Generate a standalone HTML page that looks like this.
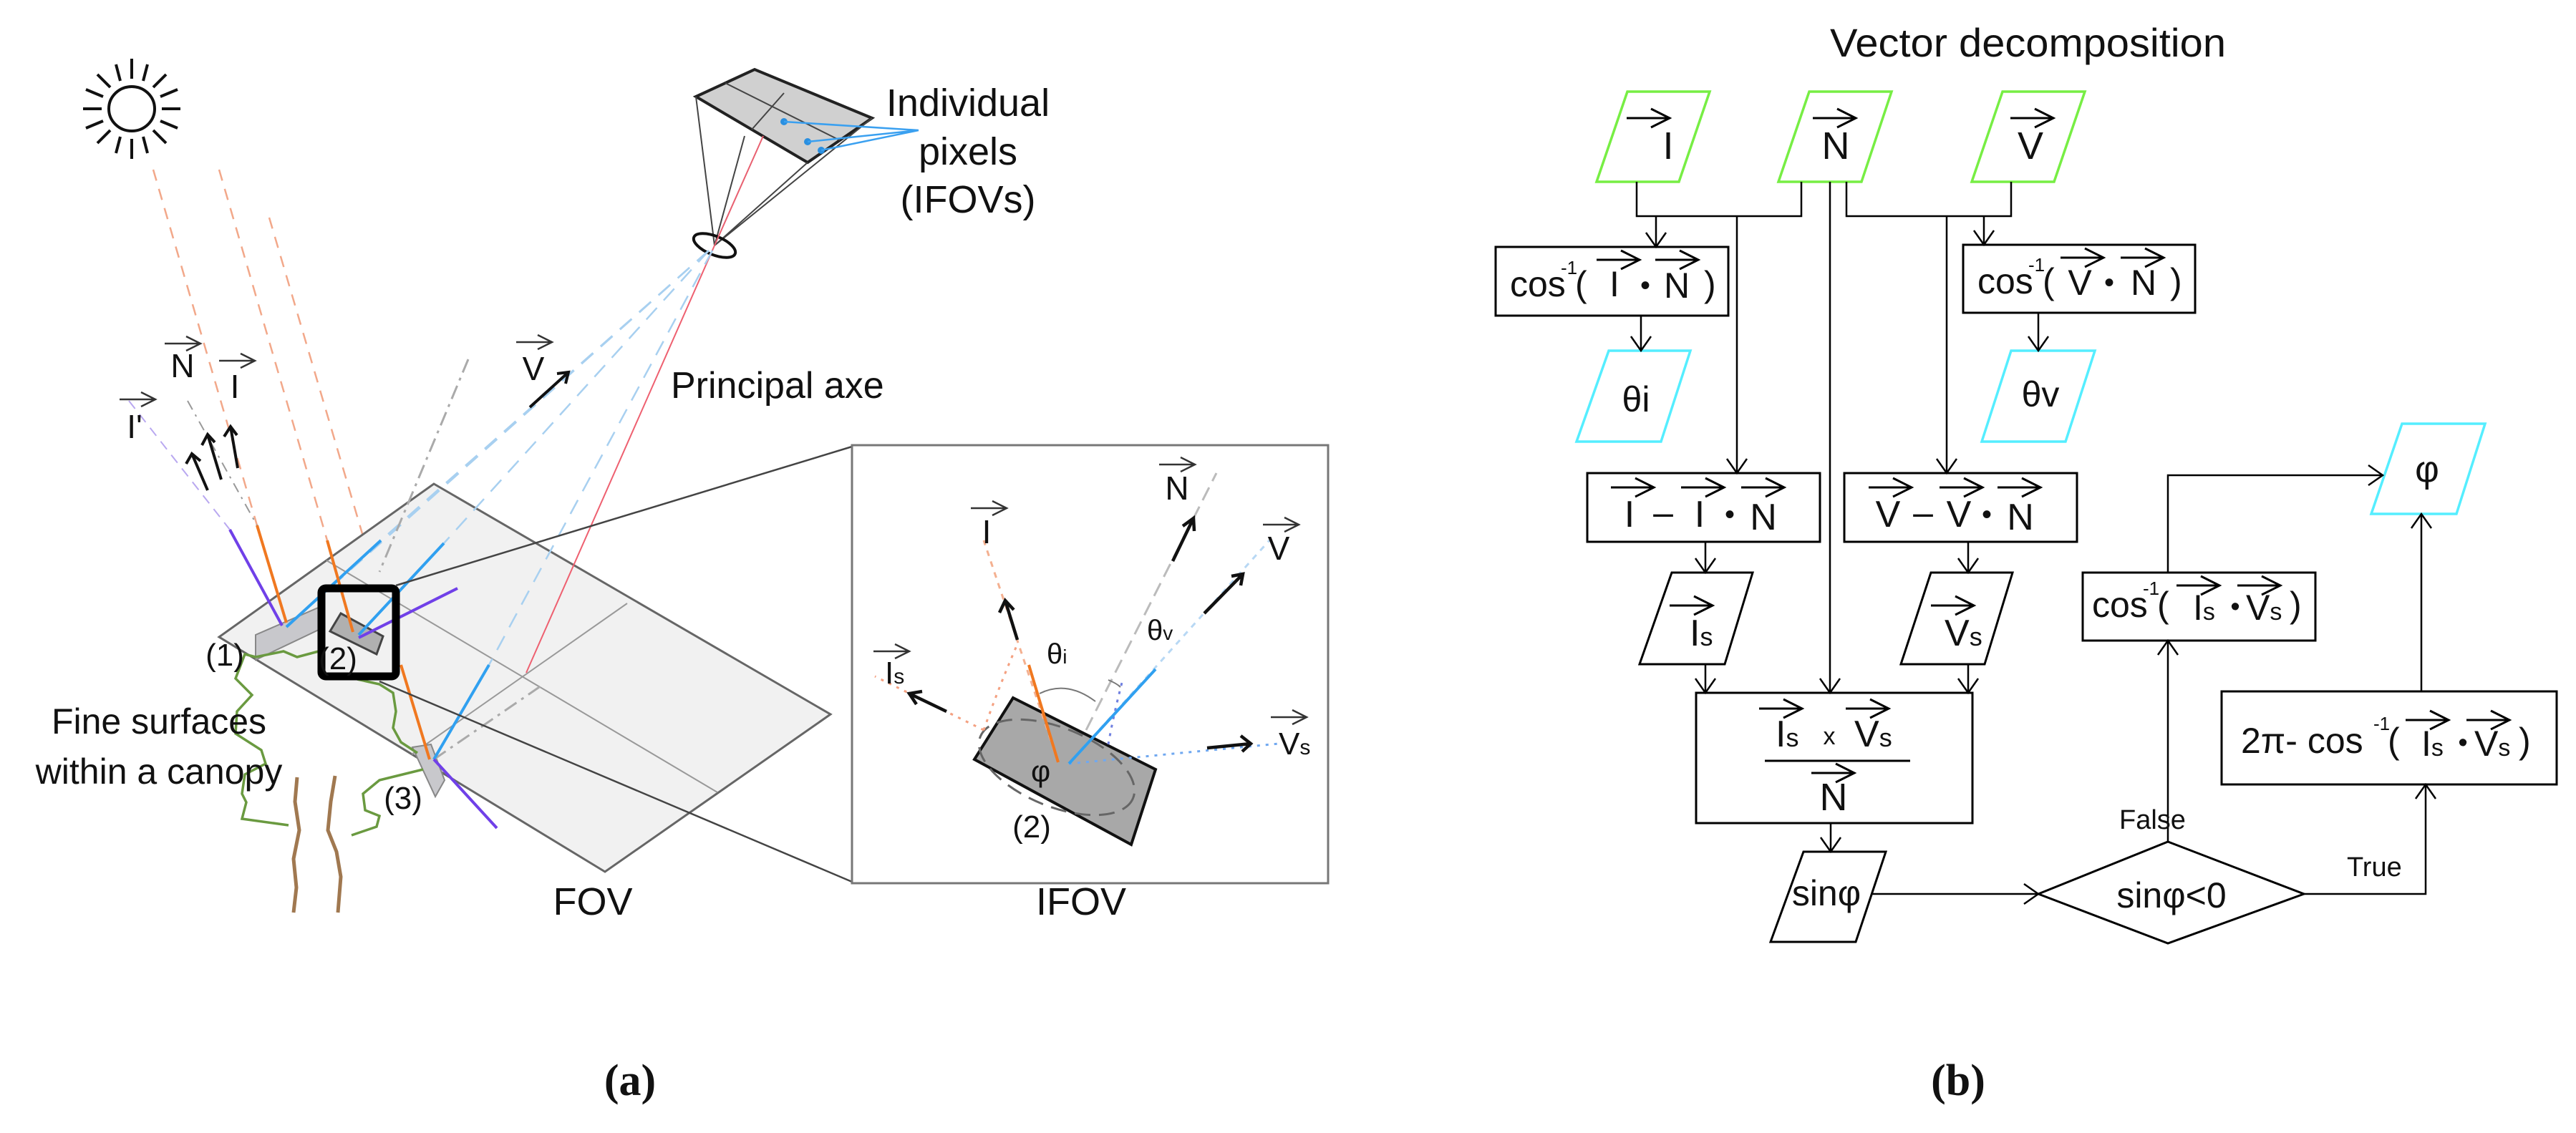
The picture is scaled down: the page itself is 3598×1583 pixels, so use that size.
<!DOCTYPE html>
<html><head><meta charset="utf-8"><style>
html,body{margin:0;padding:0;background:#fff;}
svg{display:block;}
text{font-family:"Liberation Sans",Arial,sans-serif;fill:#111;}
.ser{font-family:"Liberation Serif",serif;font-weight:bold;}
</style></head><body>
<svg width="3598" height="1583" viewBox="0 0 3598 1583" xmlns="http://www.w3.org/2000/svg">
<defs>
<g id="va"><path d="M0 0 H60 M34 -13 L60 0 L34 13" fill="none" stroke="#000" stroke-width="3"/></g>
<g id="vas"><path d="M0 0 H50 M30 -10 L50 0 L30 10" fill="none" stroke="#333" stroke-width="2.5"/></g>
</defs>

<!-- ================= LEFT PANEL ================= -->
<g stroke="#111" stroke-width="4" fill="none">
<ellipse cx="184" cy="152" rx="32" ry="31"/>
<path d="M226 152H252M142 152H116M184 110V82M184 194V222M214 122L232 104M154 122L136 104M214 182L232 200M154 182L136 200M224 135L248 125M144 135L120 125M224 169L248 179M144 169L120 179M200 113L206 90M168 113L162 90M200 191L206 214M168 191L162 214"/>
</g>
<g stroke="#f2a88a" stroke-width="2.5" stroke-dasharray="16 12" fill="none">
<path d="M214 237 L359 734"/><path d="M306 237 L457 755"/><path d="M376 304 L560 929"/>
</g>
<path d="M180 560 L321 740" stroke="#b9a8f0" stroke-width="2" stroke-dasharray="14 10"/>
<path d="M262 560 L359 734" stroke="#999" stroke-width="2" stroke-dasharray="14 8 3 8"/>

<polygon points="606,676 1160,998 845,1218 306,890" fill="#f1f1f1" stroke="#666" stroke-width="3"/>
<path d="M456 783 L1002 1107 M876 843 L575 1054" stroke="#999" stroke-width="2" fill="none"/>
<polygon points="357,887 449,847 445,880 357,922" fill="#c8c8cc" stroke="#888" stroke-width="2"/>
<polygon points="576,1044 602,1040 621,1090 608,1113" fill="#c8c8cc" stroke="#888" stroke-width="2"/>
<polygon points="476,857 535,889 526,914 461,882" fill="#b0b0b0" stroke="#444" stroke-width="3"/>

<polygon points="972,135 1054,97 1218,165 1128,227" fill="#d0d0d0" stroke="#222" stroke-width="4"/>
<path d="M1013 116 L1173 196 M1095 130 L1050 181" stroke="#444" stroke-width="2" fill="none"/>
<g stroke="#444" stroke-width="2" fill="none">
<path d="M998 343 L972 135 M998 343 L1040 190 M998 343 L1128 227 M998 343 L1218 165"/>
</g>
<ellipse cx="998" cy="343" rx="31" ry="13" transform="rotate(22 998 343)" fill="none" stroke="#111" stroke-width="4"/>
<path d="M998 343 L1066 190" stroke="#e86070" stroke-width="2"/>
<g fill="#2a8fe0"><circle cx="1095" cy="170" r="5"/><circle cx="1128" cy="198" r="5"/><circle cx="1147" cy="210" r="5"/></g>
<path d="M1095 170 L1283 182 M1128 198 L1283 182 M1147 210 L1283 182" stroke="#3aa0f0" stroke-width="2.5"/>
<path d="M998 343 L735 940" stroke="#ee6070" stroke-width="2"/>
<g stroke="#a8d0f0" stroke-width="2.5" stroke-dasharray="22 14" fill="none">
<path d="M990 350 L400 876"/><path d="M990 350 L532 755"/><path d="M990 350 L620 759"/><path d="M995 350 L683 929"/>
</g>
<path d="M654 502 L530 799" stroke="#aaa" stroke-width="3" stroke-dasharray="20 8 4 8"/>
<path d="M606 1061 L759 956" stroke="#aaa" stroke-width="3" stroke-dasharray="20 8 4 8"/>

<g stroke-width="4" fill="none">
<path d="M321 740 L394 874" stroke="#7040e8"/>
<path d="M359 734 L400 870" stroke="#f07820"/>
<path d="M400 876 L532 755" stroke="#30a0f0"/>
<path d="M457 755 L493 883" stroke="#f07820"/>
<path d="M501 887 L620 759" stroke="#30a0f0"/>
<path d="M501 891 L639 822" stroke="#7040e8"/>
<path d="M560 929 L600 1061" stroke="#f07820"/>
<path d="M606 1061 L683 929" stroke="#30a0f0"/>
<path d="M606 1061 L694 1157" stroke="#7040e8"/>
</g>
<g stroke="#6a9a40" stroke-width="3.5" fill="none">
<polyline points="357,918 342,914 329,948 352,971 331,994 329,1025 365,1048 371,1067 342,1082 338,1109 344,1121 338,1144 403,1153"/>
<polyline points="357,918 396,910 415,918 445,910"/>
<polyline points="499,949 530,956 549,968 553,994 549,1017 560,1037 583,1052"/>
<polyline points="591,1075 530,1090 507,1109 510,1132 530,1140 526,1155 491,1167"/>
</g>
<g stroke="#a07850" stroke-width="5" fill="none">
<polyline points="415,1086 412,1120 418,1160 410,1200 414,1240 410,1275"/>
<polyline points="468,1084 462,1120 458,1160 470,1190 476,1225 472,1275"/>
</g>
<rect x="449" y="822" width="104" height="123" rx="6" fill="none" stroke="#000" stroke-width="11"/>
<path d="M553 818 L1190 624 M530 952 L1190 1232" stroke="#444" stroke-width="2.5"/>

<g stroke="#111" stroke-width="4" fill="none">
<path d="M290 685 L268 634 M260 648 L268 634 L280 644"/>
<path d="M309 670 L290 607 M282 622 L290 607 L300 618"/>
<path d="M332 654 L322 596 M313 610 L322 596 L331 608"/>
<path d="M740 569 L794 520 M778 522 L794 520 L790 536"/>
</g>
<use href="#vas" x="230" y="480"/><text x="255" y="527" font-size="46" text-anchor="middle">N</text>
<use href="#vas" x="306" y="504"/><text x="328" y="556" font-size="46" text-anchor="middle">I</text>
<use href="#vas" x="167" y="558"/><text x="188" y="612" font-size="46" text-anchor="middle">I'</text>
<use href="#vas" x="721" y="478"/><text x="745" y="531" font-size="46" text-anchor="middle">V</text>

<text x="937" y="556" font-size="52">Principal axe</text>
<text x="1352" y="162" font-size="54" text-anchor="middle">Individual</text>
<text x="1352" y="230" font-size="54" text-anchor="middle">pixels</text>
<text x="1352" y="297" font-size="54" text-anchor="middle">(IFOVs)</text>
<text x="222" y="1025" font-size="50" text-anchor="middle">Fine surfaces</text>
<text x="222" y="1095" font-size="50" text-anchor="middle">within a canopy</text>
<text x="314" y="930" font-size="44" text-anchor="middle">(1)</text>
<text x="472" y="935" font-size="44" text-anchor="middle" fill="#333">(2)</text>
<text x="563" y="1130" font-size="44" text-anchor="middle">(3)</text>
<text x="828" y="1278" font-size="54" text-anchor="middle">FOV</text>
<text x="1510" y="1278" font-size="54" text-anchor="middle">IFOV</text>
<text x="880" y="1530" font-size="62" text-anchor="middle" class="ser">(a)</text>

<rect x="1190" y="622" width="665" height="612" fill="#fff" stroke="#777" stroke-width="3"/>
<polygon points="1415,975 1614,1075 1580,1180 1361,1061" fill="#a8a8a8" stroke="#111" stroke-width="4"/>
<ellipse cx="1476" cy="1072" rx="115" ry="55" transform="rotate(22 1476 1072)" fill="none" stroke="#666" stroke-width="3" stroke-dasharray="22 12"/>
<g fill="none" stroke-width="3">
<path d="M1478 1065 L1374 755" stroke="#f4b090" stroke-dasharray="8 8"/>
<path d="M1374 1020 Q1395 960 1421 900 M1374 1020 L1222 945" stroke="#f4a080" stroke-dasharray="4 8"/>
<path d="M1517 1020 L1699 661" stroke="#bbb" stroke-dasharray="20 10"/>
<path d="M1493 1067 L1773 755" stroke="#b8d8f4" stroke-dasharray="8 8"/>
<path d="M1493 1067 L1786 1039" stroke="#70a8f0" stroke-dasharray="4 8"/>
<path d="M1548 1040 Q1555 1000 1568 950" stroke="#7080e0" stroke-dasharray="4 8"/>
<path d="M1452 969 Q1490 950 1530 980 M1548 950 Q1560 955 1565 960" stroke="#777" stroke-width="2"/>
</g>
<path d="M1437 929 L1478 1065" stroke="#f07820" stroke-width="4"/>
<path d="M1493 1067 L1614 935" stroke="#30a0f0" stroke-width="4"/>
<g stroke="#111" stroke-width="4.5" fill="none">
<path d="M1421 894 L1404 839 M1396 856 L1404 839 L1416 852"/>
<path d="M1638 784 L1667 724 M1652 735 L1667 724 L1668 742"/>
<path d="M1682 857 L1736 802 M1720 805 L1736 802 L1733 818"/>
<path d="M1322 994 L1270 969 M1280 984 L1270 969 L1288 966"/>
<path d="M1686 1045 L1747 1039 M1733 1028 L1747 1039 L1735 1050"/>
</g>
<use href="#vas" x="1356" y="710"/><text x="1378" y="759" font-size="46" text-anchor="middle">I</text>
<use href="#vas" x="1619" y="649"/><text x="1644" y="698" font-size="46" text-anchor="middle">N</text>
<use href="#vas" x="1764" y="733"/><text x="1786" y="782" font-size="46" text-anchor="middle">V</text>
<use href="#vas" x="1220" y="910"/><text x="1236" y="955" font-size="44">I<tspan font-size="30">s</tspan></text>
<use href="#vas" x="1775" y="1002"/><text x="1786" y="1054" font-size="44">V<tspan font-size="30">s</tspan></text>
<text x="1462" y="927" font-size="40">θ<tspan font-size="28">i</tspan></text>
<text x="1602" y="894" font-size="40">θ<tspan font-size="28">v</tspan></text>
<text x="1440" y="1092" font-size="42">φ</text>
<text x="1441" y="1170" font-size="44" text-anchor="middle">(2)</text>

<!-- ================= RIGHT PANEL ================= -->
<text x="2556" y="79" font-size="56" textLength="553" lengthAdjust="spacingAndGlyphs">Vector decomposition</text>
<g fill="none" stroke-width="3.5">
<polygon points="2273,128 2388,128 2345,254 2230,254" stroke="#77ee44"/>
<polygon points="2527,128 2642,128 2600,254 2484,254" stroke="#77ee44"/>
<polygon points="2797,128 2912,128 2869,254 2754,254" stroke="#77ee44"/>
<polygon points="2247,490 2361,490 2320,617 2202,617" stroke="#55eeff"/>
<polygon points="2809,490 2926,490 2885,617 2768,617" stroke="#55eeff"/>
<polygon points="3355,592 3471,592 3431,718 3312,718" stroke="#55eeff"/>
</g>
<g fill="none" stroke="#000" stroke-width="3">
<polygon points="2335,800 2448,800 2409,928 2290,928"/>
<polygon points="2697,800 2811,800 2772,928 2655,928"/>
<polygon points="2519,1190 2634,1190 2592,1316 2473,1316"/>
<rect x="2089" y="345" width="325" height="96"/>
<rect x="2742" y="342" width="324" height="95"/>
<rect x="2217" y="661" width="325" height="96"/>
<rect x="2576" y="661" width="325" height="96"/>
<rect x="2369" y="968" width="386" height="182"/>
<rect x="2909" y="800" width="325" height="95"/>
<rect x="3103" y="966" width="468" height="130"/>
<polygon points="2847,1249 3028,1176 3218,1249 3028,1318"/>
</g>
<g fill="none" stroke="#000" stroke-width="2.5">
<path d="M2286 254 V302 H2516 V254"/>
<path d="M2313 302 V345"/>
<path d="M2426 302 V661"/>
<path d="M2556 254 V968"/>
<path d="M2579 254 V302 H2809 V254"/>
<path d="M2719 302 V661"/>
<path d="M2771 302 V342"/>
<path d="M2292 441 V490"/>
<path d="M2847 437 V490"/>
<path d="M2382 757 V800 M2749 757 V800 M2382 928 V968 M2749 928 V968"/>
<path d="M2557 1150 V1190"/>
<path d="M2614 1249 H2847"/>
<path d="M3028 1176 V895"/>
<path d="M3028 800 V664 H3328"/>
<path d="M3218 1249 H3388 V1096"/>
<path d="M3382 966 V718"/>
</g>
<g fill="none" stroke="#000" stroke-width="2.5">
<path d="M2299 325 L2313 345 L2327 325"/>
<path d="M2412 641 L2426 661 L2440 641"/>
<path d="M2542 948 L2556 968 L2570 948"/>
<path d="M2705 641 L2719 661 L2733 641"/>
<path d="M2757 322 L2771 342 L2785 322"/>
<path d="M2278 470 L2292 490 L2306 470"/>
<path d="M2833 470 L2847 490 L2861 470"/>
<path d="M2368 780 L2382 800 L2396 780 M2735 780 L2749 800 L2763 780 M2368 948 L2382 968 L2396 948 M2735 948 L2749 968 L2763 948"/>
<path d="M2543 1170 L2557 1190 L2571 1170"/>
<path d="M2827 1235 L2847 1249 L2827 1263"/>
<path d="M3014 915 L3028 895 L3042 915"/>
<path d="M3308 650 L3328 664 L3308 678"/>
<path d="M3374 1116 L3388 1096 L3402 1116"/>
<path d="M3368 738 L3382 718 L3396 738"/>
</g>
<use href="#va" x="2272" y="165"/><text x="2330" y="222" font-size="54" text-anchor="middle">I</text>
<use href="#va" x="2532" y="165"/><text x="2564" y="222" font-size="54" text-anchor="middle">N</text>
<use href="#va" x="2808" y="165"/><text x="2836" y="222" font-size="54" text-anchor="middle">V</text>

<text x="2109" y="414" font-size="50">cos</text><text x="2180" y="383" font-size="26">-1</text><text x="2200" y="414" font-size="50">(</text>
<use href="#va" x="2230" y="363"/><text x="2255" y="414" font-size="50" text-anchor="middle">I</text>
<text x="2298" y="412" font-size="40" text-anchor="middle">•</text>
<use href="#va" x="2312" y="363"/><text x="2342" y="416" font-size="50" text-anchor="middle">N</text>
<text x="2380" y="414" font-size="50">)</text>

<text x="2762" y="410" font-size="50">cos</text><text x="2833" y="379" font-size="26">-1</text><text x="2853" y="410" font-size="50">(</text>
<use href="#va" x="2878" y="360"/><text x="2905" y="412" font-size="50" text-anchor="middle">V</text>
<text x="2946" y="408" font-size="40" text-anchor="middle">•</text>
<use href="#va" x="2962" y="360"/><text x="2994" y="412" font-size="50" text-anchor="middle">N</text>
<text x="3031" y="410" font-size="50">)</text>

<text x="2285" y="575" font-size="50" text-anchor="middle">θi</text>
<text x="2850" y="568" font-size="50" text-anchor="middle">θv</text>

<use href="#va" x="2250" y="681"/><text x="2276" y="736" font-size="52" text-anchor="middle">I</text>
<text x="2323" y="733" font-size="50" text-anchor="middle">–</text>
<use href="#va" x="2348" y="681"/><text x="2374" y="736" font-size="52" text-anchor="middle">I</text>
<text x="2416" y="732" font-size="40" text-anchor="middle">•</text>
<use href="#va" x="2432" y="681"/><text x="2463" y="740" font-size="52" text-anchor="middle">N</text>

<use href="#va" x="2610" y="681"/><text x="2637" y="736" font-size="52" text-anchor="middle">V</text>
<text x="2686" y="733" font-size="50" text-anchor="middle">–</text>
<use href="#va" x="2709" y="681"/><text x="2736" y="736" font-size="52" text-anchor="middle">V</text>
<text x="2775" y="732" font-size="40" text-anchor="middle">•</text>
<use href="#va" x="2790" y="681"/><text x="2822" y="740" font-size="52" text-anchor="middle">N</text>

<use href="#va" x="2332" y="846"/><text x="2360" y="902" font-size="52">I<tspan font-size="36">s</tspan></text>
<use href="#va" x="2697" y="846"/><text x="2716" y="902" font-size="52">V<tspan font-size="36">s</tspan></text>

<use href="#va" x="2457" y="990"/><text x="2480" y="1043" font-size="52">I<tspan font-size="36">s</tspan></text>
<text x="2555" y="1040" font-size="34" text-anchor="middle">x</text>
<use href="#va" x="2578" y="990"/><text x="2590" y="1043" font-size="52">V<tspan font-size="36">s</tspan></text>
<path d="M2465 1063 H2668" stroke="#000" stroke-width="3"/>
<use href="#va" x="2530" y="1080"/><text x="2561" y="1132" font-size="54" text-anchor="middle">N</text>

<text x="2551" y="1265" font-size="50" text-anchor="middle">sinφ</text>
<text x="3033" y="1268" font-size="50" text-anchor="middle">sinφ&lt;0</text>
<text x="2960" y="1158" font-size="38">False</text>
<text x="3278" y="1224" font-size="38">True</text>

<text x="2922" y="862" font-size="50">cos</text><text x="2993" y="831" font-size="26">-1</text><text x="3013" y="862" font-size="50">(</text>
<use href="#va" x="3040" y="818"/><text x="3063" y="866" font-size="50">I<tspan font-size="34">s</tspan></text>
<text x="3122" y="860" font-size="38" text-anchor="middle">•</text>
<use href="#va" x="3125" y="818"/><text x="3137" y="866" font-size="50">V<tspan font-size="34">s</tspan></text>
<text x="3198" y="862" font-size="50">)</text>

<text x="3130" y="1052" font-size="50">2π- cos</text><text x="3315" y="1020" font-size="26">-1</text><text x="3335" y="1052" font-size="50">(</text>
<use href="#va" x="3360" y="1006"/><text x="3382" y="1056" font-size="50">I<tspan font-size="34">s</tspan></text>
<text x="3440" y="1050" font-size="38" text-anchor="middle">•</text>
<use href="#va" x="3445" y="1006"/><text x="3456" y="1056" font-size="50">V<tspan font-size="34">s</tspan></text>
<text x="3518" y="1052" font-size="50">)</text>

<text x="3390" y="673" font-size="52" text-anchor="middle">φ</text>
<text x="2735" y="1530" font-size="62" text-anchor="middle" class="ser">(b)</text>
</svg>
</body></html>
